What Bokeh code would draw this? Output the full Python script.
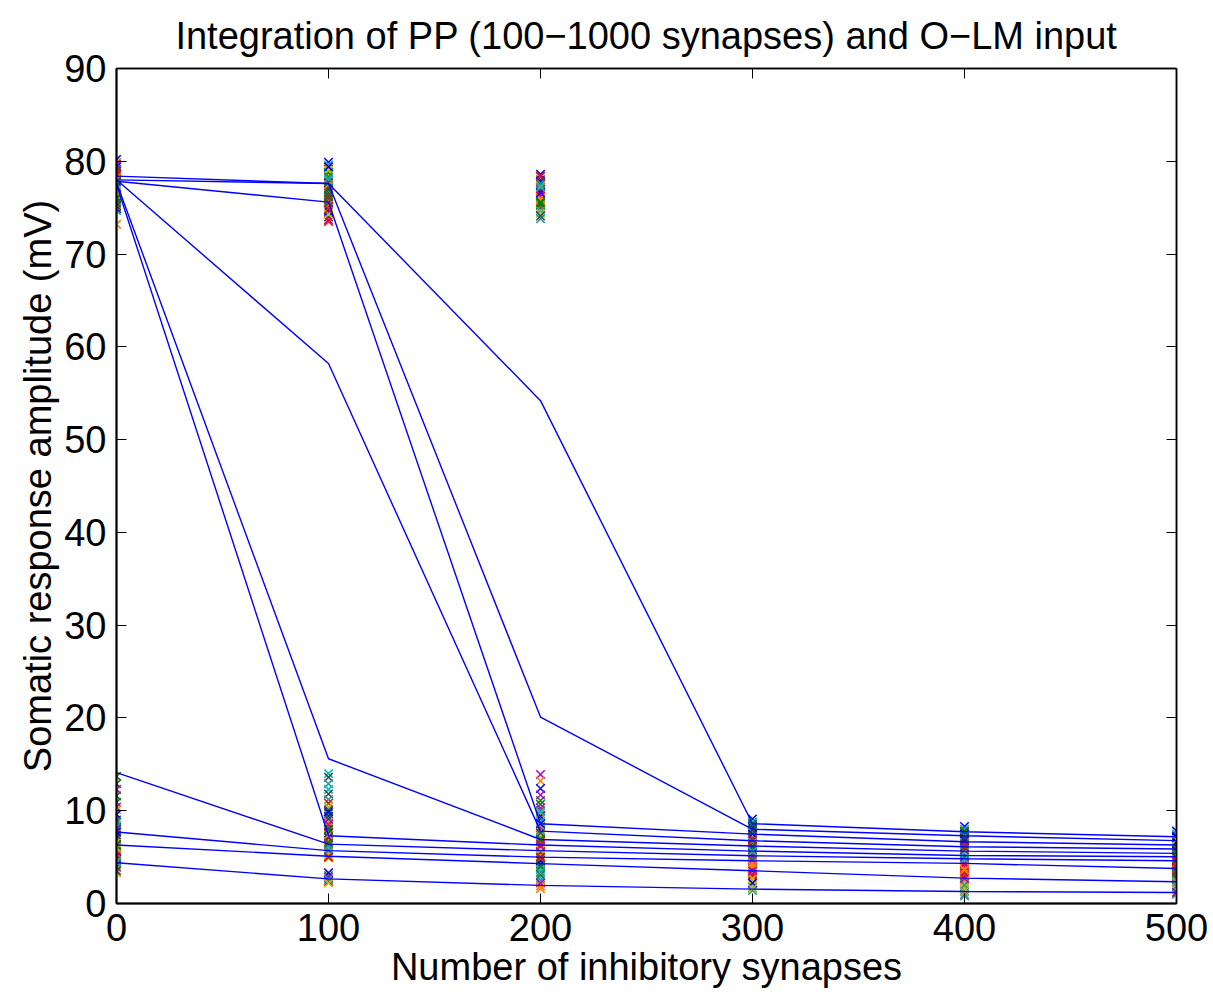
from bokeh.plotting import figure
from bokeh.models import (Range1d, FixedTicker, LinearAxis, ColumnDataSource,
                          CustomJSTickFormatter)
from bokeh.embed import file_html
from bokeh.resources import INLINE

# Number of inhibitory (O-LM) synapses tested
inhib = [0, 100, 200, 300, 400, 500]

# Mean somatic response for each PP configuration (100 ... 1000 synapses)
mean_pp1000 = [78.4, 77.6, 54.2, 8.6, 7.73, 7.2]
mean_pp900 = [78.0, 77.6, 20.1, 8.0, 7.3, 6.78]
mean_pp800 = [77.85, 75.6, 8.6, 7.48, 6.66, 6.3]
mean_pp700 = [78.0, 58.2, 7.8, 6.76, 6.12, 5.87]
mean_pp600 = [77.7, 15.6, 6.9, 6.19, 5.65, 5.4]
mean_pp500 = [77.5, 7.3, 6.3, 5.65, 5.18, 5.04]
mean_pp400 = [14.1, 6.4, 5.7, 5.15, 4.82, 4.6]
mean_pp300 = [7.7, 5.7, 5.0, 4.61, 4.32, 3.78]
mean_pp200 = [6.3, 5.1, 4.3, 3.53, 2.74, 2.34]
mean_pp100 = [4.4, 2.65, 1.95, 1.55, 1.3, 1.19]

means = [mean_pp1000, mean_pp900, mean_pp800, mean_pp700, mean_pp600,
         mean_pp500, mean_pp400, mean_pp300, mean_pp200, mean_pp100]

# Individual trial amplitudes (mV) at each inhibition level
trials_0 = [80.2, 78.9, 77.1, 79.6, 76.3, 78.3, 75.1, 79.9, 77.7, 76.9,
            74.9, 78.6, 77.3, 75.7, 79.1, 76.5, 78.1, 75.3, 77.9, 74.7,
            79.4, 76.1, 78.5, 75.9, 77.5, 76.7, 75.5, 73.2, 79.0, 78.0,
            77.2, 76.0, 78.7, 77.6, 79.7, 76.8, 75.2, 78.2,
            13.7, 8.1, 5.6, 12.9, 6.9, 4.1, 12.3, 7.6, 9.0, 3.6,
            11.6, 6.4, 4.9, 10.9, 8.7, 5.4, 10.4, 3.3, 7.1, 10.1,
            6.1, 4.4, 9.6, 7.9, 5.1, 8.4, 3.9, 6.6, 7.4, 5.9,
            4.6, 8.8, 7.7, 6.3, 5.2, 4.5, 8.0, 6.0, 3.5]
trials_100 = [79.9, 77.1, 75.1, 79.6, 76.4, 78.5, 74.0, 79.3, 77.4, 76.1,
              74.6, 78.8, 75.9, 77.8, 73.7, 79.0, 76.9, 75.4, 78.3, 74.9,
              77.6, 76.6, 73.5, 78.0, 75.6, 74.3, 77.7, 77.5, 75.5, 78.2,
              79.4, 76.2, 74.8,
              14.0, 8.2, 5.3, 13.6, 6.8, 3.0, 12.9, 9.4, 5.8, 2.4,
              12.3, 7.3, 4.9, 11.8, 8.8, 6.3, 11.2, 3.3, 7.9, 10.8,
              6.1, 2.8, 10.4, 9.1, 5.6, 10.1, 2.6, 7.6, 9.7, 6.6,
              5.1, 8.5, 2.2, 7.1, 7.4, 6.5, 5.7, 9.9, 8.0, 5.0]
trials_200 = [78.6, 76.8, 75.0, 78.3, 76.3, 74.4, 78.0, 75.8, 77.5, 73.8,
              77.8, 75.3, 77.0, 74.7, 76.5, 77.3, 74.1, 76.0, 75.5, 77.6,
              76.6, 75.6, 78.4, 77.2,
              13.9, 7.3, 4.3, 13.2, 9.1, 2.5, 12.4, 6.1, 8.2, 3.7,
              11.7, 5.2, 10.0, 1.9, 11.1, 7.9, 4.6, 10.7, 6.7, 2.8,
              10.3, 8.5, 5.5, 9.7, 3.1, 7.0, 9.4, 4.0, 6.4, 8.8,
              2.2, 5.8, 7.6, 1.6, 4.9, 3.4, 8.6, 6.9, 5.0, 9.9, 6.2]
trials_300 = [9.1, 6.5, 3.7, 8.8, 5.2, 2.5, 8.5, 7.2, 4.5, 1.7,
              8.2, 6.0, 3.2, 7.7, 5.7, 2.0, 8.0, 4.2, 7.0, 1.4,
              7.5, 5.5, 3.0, 6.7, 4.7, 2.7, 6.2, 4.0, 5.0, 3.5,
              2.2, 8.6, 6.8, 5.6, 3.5, 1.6, 7.9, 4.4]
trials_400 = [8.3, 5.8, 3.3, 8.0, 6.5, 1.8, 7.8, 4.5, 2.8, 1.0,
              7.5, 6.0, 4.0, 7.3, 5.3, 2.3, 7.0, 3.8, 6.3, 0.8,
              6.8, 5.0, 3.0, 5.5, 4.3, 1.5, 4.8, 2.5, 3.5, 2.0,
              1.3, 7.7, 6.1, 4.8, 2.7, 1.3, 7.1, 3.6]
trials_500 = [7.8, 5.4, 3.1, 7.5, 6.1, 1.7, 7.3, 4.3, 2.6, 1.0,
              7.1, 5.7, 3.8, 6.8, 4.7, 2.2, 6.6, 3.6, 5.9, 1.2,
              6.4, 4.0, 2.9, 5.2, 4.5, 1.5, 5.0, 2.4, 3.3, 1.9,
              7.2, 5.9, 4.6, 2.3, 1.2, 6.9, 3.5]

trials = [trials_0, trials_100, trials_200, trials_300, trials_400, trials_500]

# Marker colour cycle for the trial crosses
palette = ["#0000ff", "#008000", "#ff0000", "#00bfbf", "#bf00bf",
           "#bfbf00", "#404040", "#ff8000", "#2e6b2e", "#1a9999"]

FONT = "Liberation Sans"

p = figure(width=1213, height=995, output_backend="svg", toolbar_location=None,
           x_range=Range1d(0, 500), y_range=Range1d(0, 90),
           min_border_left=116, min_border_right=37,
           min_border_top=68, min_border_bottom=92,
           title="Integration of PP (100\u22121000 synapses) and O\u2212LM input")

p.background_fill_color = "white"
p.border_fill_color = "white"
p.outline_line_color = "black"
p.outline_line_width = 1.5
p.xgrid.visible = False
p.ygrid.visible = False

p.title.text_font = FONT
p.title.text_font_size = "38px"
p.title.text_font_style = "normal"
p.title.text_color = "black"
p.title.align = "center"
p.title.standoff = 24

x_ticks = FixedTicker(ticks=inhib)
y_ticks = FixedTicker(ticks=list(range(0, 91, 10)))

for ax in (p.xaxis[0], p.yaxis[0]):
    ax.major_label_text_font = FONT
    ax.major_label_text_font_size = "38px"
    ax.major_label_text_color = "black"
    ax.axis_label_text_font = FONT
    ax.axis_label_text_font_size = "38px"
    ax.axis_label_text_font_style = "normal"
    ax.axis_label_text_color = "black"
    ax.major_tick_in = 10
    ax.major_tick_out = 0
    ax.minor_tick_line_color = None
    ax.axis_line_width = 2
    ax.axis_line_color = "black"
    ax.major_tick_line_color = "black"
    ax.major_label_standoff = 10
    ax.axis_label_standoff = 2

p.xaxis.ticker = x_ticks
p.yaxis.ticker = y_ticks
p.xaxis.axis_label = "Number of inhibitory synapses"
p.yaxis.axis_label = "Somatic response amplitude (mV)"

# Mirrored tick marks on the top and right edges of the box (no labels)
blank = CustomJSTickFormatter(code="return ''")
for loc, tk in (("above", x_ticks), ("right", y_ticks)):
    ax = LinearAxis(ticker=tk, formatter=blank,
                    major_tick_in=10, major_tick_out=0, major_label_standoff=0,
                    minor_tick_line_color=None, axis_line_color="black",
                    axis_line_width=1.5, major_tick_line_color="black")
    p.add_layout(ax, loc)

# Trial crosses
xs, ys, cs = [], [], []
for xv, vals in zip(inhib, trials):
    for i, v in enumerate(vals):
        xs.append(xv)
        ys.append(v)
        cs.append(palette[i % len(palette)])
src = ColumnDataSource(dict(x=xs, y=ys, c=cs))
p.scatter("x", "y", source=src, marker="x", size=12, line_color="c",
          line_width=1.5)

# Mean response curves
for m in means:
    p.line(inhib, m, line_color="#0000ff", line_width=1.4)

open("out.html", "w").write(file_html(p, INLINE))
